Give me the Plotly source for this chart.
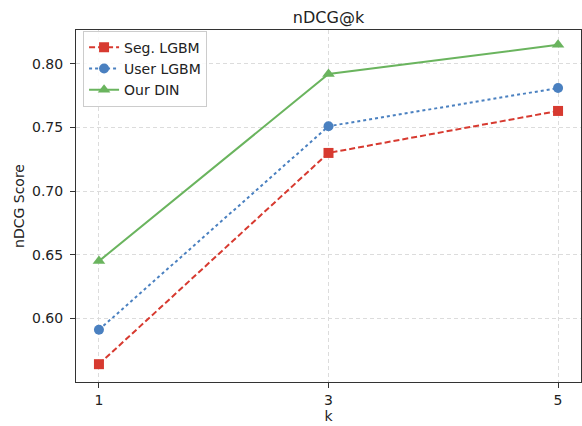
import plotly.graph_objects as go

k_values = [1, 3, 5]
seg_lgbm = [0.564, 0.730, 0.763]
user_lgbm = [0.591, 0.751, 0.781]
our_din = [0.645, 0.792, 0.815]
y_ticks = [0.60, 0.65, 0.70, 0.75, 0.80]

fig = go.Figure()
fig.add_trace(go.Scatter(x=k_values, y=seg_lgbm, name="Seg. LGBM", mode="lines+markers",
                         line=dict(color="#d73a30", width=2, dash="6px,3px"),
                         marker=dict(symbol="square", size=10, color="#d73a30")))
fig.add_trace(go.Scatter(x=k_values, y=user_lgbm, name="User LGBM", mode="lines+markers",
                         line=dict(color="#4a80c0", width=2, dash="dot"),
                         marker=dict(symbol="circle", size=10, color="#4a80c0")))
fig.add_trace(go.Scatter(x=k_values, y=our_din, name="Our DIN", mode="lines+markers",
                         line=dict(color="#6ab45e", width=2),
                         marker=dict(symbol="triangle-up", size=11, color="#6ab45e")))

axis_common = dict(showline=True, linecolor="#333333", linewidth=1, mirror=True,
                   ticks="outside", ticklen=5, tickcolor="#333333",
                   showgrid=True, gridcolor="#dcdcdc", griddash="4px,3px", gridwidth=1,
                   zeroline=False, automargin=False,
                   tickfont=dict(size=14, color="#222222"))

fig.update_layout(
    width=582, height=426,
    margin=dict(l=76, r=1, t=30, b=44),
    paper_bgcolor="white", plot_bgcolor="white",
    font=dict(family="DejaVu Sans", size=14, color="#222222"),
    title=dict(text="nDCG@k", xref="paper", x=0.5, xanchor="center",
               yref="container", y=0.96, yanchor="middle",
               font=dict(size=16, color="#222222")),
    xaxis=dict(axis_common, range=[0.8, 5.2], tickvals=k_values,
               title=dict(text="k", font=dict(size=14), standoff=4)),
    yaxis=dict(axis_common, range=[0.55, 0.8266], tickvals=y_ticks, tickformat=".2f",
               ticklabelstandoff=4,
               title=dict(text="nDCG Score", font=dict(size=14), standoff=4)),
    legend=dict(x=0.014, y=0.998, xanchor="left", yanchor="top",
                bgcolor="rgba(255,255,255,0.85)", bordercolor="#cccccc", borderwidth=1,
                font=dict(size=14), tracegroupgap=0, itemwidth=30),
    showlegend=True,
)

fig.write_html("out.html", config={"displayModeBar": False},
               post_script="document.body.style.margin='0';document.body.style.overflow='hidden';")
